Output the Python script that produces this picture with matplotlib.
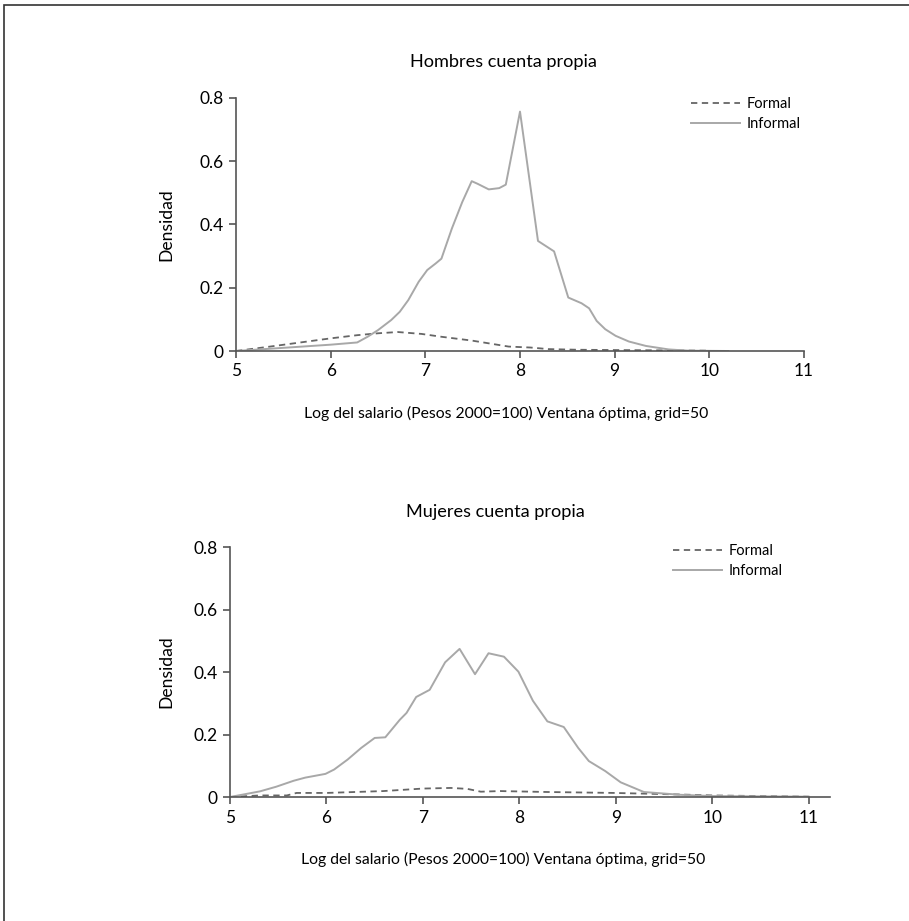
import matplotlib
matplotlib.use("Agg")
import matplotlib.pyplot as plt
from matplotlib.patches import Rectangle

plt.rcParams['font.family'] = ['Lato', 'DejaVu Sans']

# Hombres cuenta propia
h_inf_x = [5.0, 5.5, 6.0, 6.28, 6.39, 6.50, 6.64, 6.73, 6.82, 6.93, 7.02, 7.11, 7.17,
           7.28, 7.39, 7.49, 7.55, 7.67, 7.78, 7.85, 8.0, 8.19, 8.36, 8.51, 8.65, 8.73,
           8.81, 8.90, 9.01, 9.15, 9.33, 9.57, 9.78, 10.2]
h_inf_y = [0.0, 0.010, 0.020, 0.027, 0.045, 0.066, 0.098, 0.124, 0.161, 0.219, 0.256, 0.277, 0.292,
           0.387, 0.471, 0.537, 0.529, 0.511, 0.515, 0.526, 0.757, 0.348, 0.315, 0.169, 0.151, 0.135,
           0.095, 0.069, 0.048, 0.030, 0.016, 0.005, 0.001, 0.0]
h_for_x = [5.0, 5.36, 6.0, 6.28, 6.50, 6.71, 6.96, 7.17, 7.49, 7.88, 8.11, 8.3, 8.6, 9.0, 9.5, 10.0]
h_for_y = [0.0, 0.014, 0.040, 0.050, 0.056, 0.060, 0.054, 0.045, 0.033, 0.014, 0.011, 0.006, 0.004, 0.003, 0.002, 0.001]

# Mujeres cuenta propia
m_inf_x = [5.0, 5.31, 5.48, 5.66, 5.78, 5.99, 6.08, 6.22, 6.36, 6.50, 6.61, 6.76, 6.83, 6.93,
           7.07, 7.23, 7.38, 7.54, 7.68, 7.84, 7.99, 8.14, 8.29, 8.46, 8.61, 8.72, 8.89,
           9.05, 9.29, 9.67, 10.0, 10.5, 11.0]
m_inf_y = [0.0, 0.018, 0.033, 0.052, 0.062, 0.074, 0.088, 0.120, 0.157, 0.189, 0.191, 0.247, 0.269, 0.320,
           0.343, 0.431, 0.474, 0.393, 0.460, 0.449, 0.401, 0.308, 0.242, 0.224, 0.157, 0.115, 0.083,
           0.047, 0.016, 0.007, 0.003, 0.002, 0.001]
m_for_x = [5.0, 5.31, 5.59, 5.69, 6.0, 6.59, 7.0, 7.29, 7.46, 7.6, 7.8, 8.29, 8.98, 9.67, 10.0, 11.0]
m_for_y = [0.0, 0.005, 0.005, 0.013, 0.013, 0.019, 0.027, 0.029, 0.026, 0.017, 0.019, 0.016, 0.013, 0.008, 0.005, 0.001]

x_ticks = [5, 6, 7, 8, 9, 10, 11]
y_ticks = [0, 0.2, 0.4, 0.6, 0.8]
y_labels = ['0', '0.2', '0.4', '0.6', '0.8']
xlabel = 'Log del salario (Pesos 2000=100) Ventana óptima, grid=50'

W, H = 909, 921
fig = plt.figure(figsize=(W / 100, H / 100), dpi=100)
renderer = fig.canvas.get_renderer()


def fit(t, target, height=False):
    # scale the font so the text takes the width (or height) seen in the reference
    bb = t.get_window_extent(renderer)
    size = bb.height if height else bb.width
    t.set_fontsize(t.get_fontsize() * target / size)


def ftext(x, y, s, size):
    return fig.text(x / W, 1 - y / H, s, ha='center', va='center', fontsize=size)


# outer frame (cut on the right and bottom)
fig.add_artist(Rectangle((4 / W, -0.1), 1.2, 1.1 - 5 / H, transform=fig.transFigure,
                         fill=False, edgecolor='#333333', linewidth=1.2))


def panel(rect, fx, fy, ix, iy, xmax, leg_xy, ylab_x):
    ax = fig.add_axes([rect[0] / W, 1 - rect[3] / H, (rect[2] - rect[0]) / W, (rect[3] - rect[1]) / H])
    ax.plot(fx, fy, color='#666666', linestyle=(0, (3.5, 2.5)), linewidth=1.3, label='Formal')
    ax.plot(ix, iy, color='#a8a8a8', linewidth=1.4, label='Informal')
    ax.set_xlim(5, xmax)
    ax.set_ylim(0, 0.8)
    ax.set_xticks(x_ticks)
    ax.set_yticks(y_ticks)
    ax.set_yticklabels(y_labels)
    for s in ['top', 'right']:
        ax.spines[s].set_visible(False)
    for s in ['left', 'bottom']:
        ax.spines[s].set_color('#555555')
        ax.spines[s].set_linewidth(1.2)
    ax.tick_params(colors='#555555', labelcolor='black', labelsize=12.5, length=5, width=1.2, pad=4)
    yl = ax.set_ylabel('Densidad', fontsize=12)
    fit(yl, 72, height=True)
    ax.yaxis.set_label_coords((ylab_x - rect[0]) / (rect[2] - rect[0]), 0.5)
    fpx = 10.5 * 100 / 72
    ax.legend(loc='upper left', bbox_to_anchor=(leg_xy[0] / W, 1 - leg_xy[1] / H),
              bbox_transform=fig.transFigure, frameon=False, fontsize=10.5, borderpad=0,
              borderaxespad=0, handlelength=49 / fpx, handletextpad=7 / fpx, labelspacing=0.4)
    return ax


# rect = left, top, right, bottom in pixels
panel((236, 98, 804, 351), h_for_x, h_for_y, h_inf_x, h_inf_y, 11, (691, 97), 174)
panel((230, 547, 830, 797), m_for_x, m_for_y, m_inf_x, m_inf_y, 11.22, (673, 544), 174)

t1 = ftext(503, 62, 'Hombres cuenta propia', 12)
fit(t1, 186)
t2 = ftext(495, 512, 'Mujeres cuenta propia', t1.get_fontsize())
x1 = ftext(506, 413, xlabel, 10)
fit(x1, 404)
x2 = ftext(503, 859, xlabel, x1.get_fontsize())

fig.savefig('out.png', dpi=100)
